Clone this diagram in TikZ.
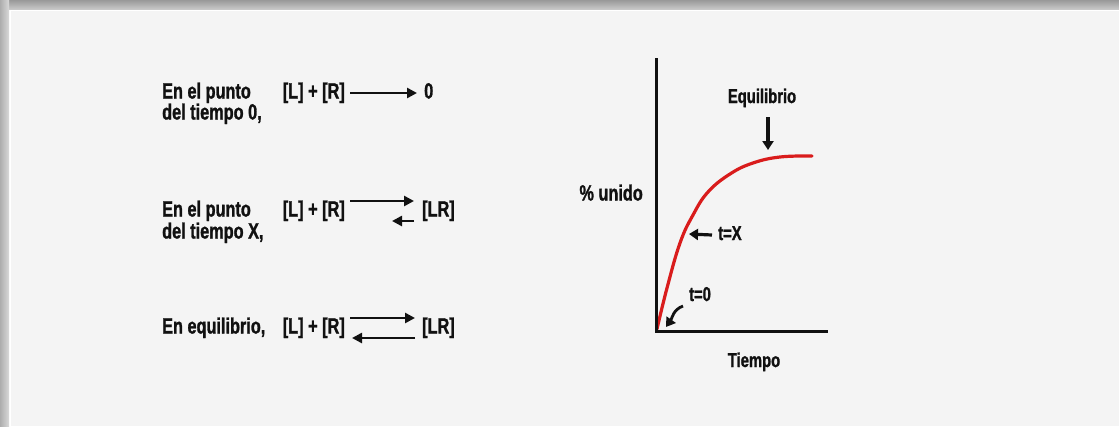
\documentclass[tikz,border=0pt]{standalone}
\usepackage{fontspec}
\setmainfont{Liberation Sans}
\newfontfamily\labfont[FakeStretch=0.74,FakeBold=1.2]{Liberation Sans}
\usetikzlibrary{arrows.meta}
\definecolor{panel}{HTML}{F4F4F4}
\definecolor{curvered}{HTML}{D91C1C}
\definecolor{ink}{HTML}{111111}
\begin{document}
\begin{tikzpicture}[x=1pt,y=-1pt,
  lab/.style={inner sep=0pt, text=ink, font=\labfont\bfseries\fontsize{22}{24}\selectfont, text height=15pt, text depth=4pt},
  small/.style={lab, font=\labfont\bfseries\fontsize{20}{22}\selectfont, text height=14pt},
  rxn/.style={draw=ink, line width=2.8pt, -{Triangle[length=10pt,width=10pt]}},
  ptr/.style={draw=ink, line width=3.2pt, -{Triangle[length=9pt,width=11pt]}},
  axis/.style={draw=ink, line width=3pt},
  curve/.style={draw=curvered, line width=3.2pt, line cap=round},
]
\useasboundingbox (0,0) rectangle (1119,426);
% background frame
\fill[white] (0,0) rectangle (1119,426);
\shade[top color=black!40, bottom color=black!22] (0,0) rectangle (1119,9);
\shade[left color=black!32, right color=black!15] (0,0) rectangle (9,426);
\fill[panel] (10,10) rectangle (1119,426);
\draw[white, line width=1pt] (10,426) -- (10,10) -- (1119,10);

% row 1
\node[lab, anchor=west] (r1a) at (162,93) {En el punto};
\node[lab, anchor=west] (r1b) at (162,114) {del tiempo 0,};
\node[lab, anchor=east] (l1) at (345,93) {[L] + [R]};
\node[lab, anchor=west] (p1) at (424,93) {0};
\draw[rxn] ([xshift=5pt]l1.east) -- ([xshift=-7pt]p1.west);

% row 2
\node[lab, anchor=west] (r2a) at (162,211) {En el punto};
\node[lab, anchor=west] (r2b) at (162,233) {del tiempo X,};
\node[lab, anchor=east] (l2) at (345,211) {[L] + [R]};
\node[lab, anchor=west] (p2) at (422,211) {[LR]};
\draw[rxn] ([xshift=5pt,yshift=10pt]l2.east) -- ([xshift=-8pt,yshift=10pt]p2.west);
\draw[rxn] ([xshift=-8pt,yshift=-10pt]p2.west) -- ([xshift=-30pt,yshift=-10pt]p2.west);

% row 3
\node[lab, anchor=west] (r3a) at (162,328) {En equilibrio,};
\node[lab, anchor=east] (l3) at (345,328) {[L] + [R]};
\node[lab, anchor=west] (p3) at (422,328) {[LR]};
\draw[rxn] ([xshift=5pt,yshift=10pt]l3.east) -- ([xshift=-7pt,yshift=10pt]p3.west);
\draw[rxn] ([xshift=-7pt,yshift=-10pt]p3.west) -- ([xshift=7pt,yshift=-10pt]l3.east);

% graph
\coordinate (O) at (656,331);
\coordinate (ytop) at (656,58);
\coordinate (xend) at (828,331);
\draw[curve] plot[smooth, tension=0.7] coordinates {(657,329) (667,288) (680,243) (693,215) (708,192) (730,174) (753,163) (780,157) (812,156)};
\draw[axis] (ytop) -- (O) -- (xend);

\node[small] (eqlab) at (762,98) {Equilibrio};
\coordinate (eqpt) at (768,150);
\draw[ptr] ([xshift=6pt,yshift=-10pt]eqlab.south) -- (eqpt);

\node[lab, anchor=east] (ylab) at (643,195) {\% unido};

\node[small, anchor=west] (tX) at (718,235) {t=X};
\coordinate (cX) at (689,234);
\draw[ptr] ([xshift=-6pt]tX.west) -- (cX);

\node[small] (t0) at (700,296) {t=0};
\coordinate (c0) at (666,327);
\draw[ptr, line width=2.8pt] ([xshift=-17pt,yshift=-10pt]t0.center) to[out=200,in=55] (c0);

\node[small] (xlab) at (754,362) {Tiempo};
\end{tikzpicture}
\end{document}
